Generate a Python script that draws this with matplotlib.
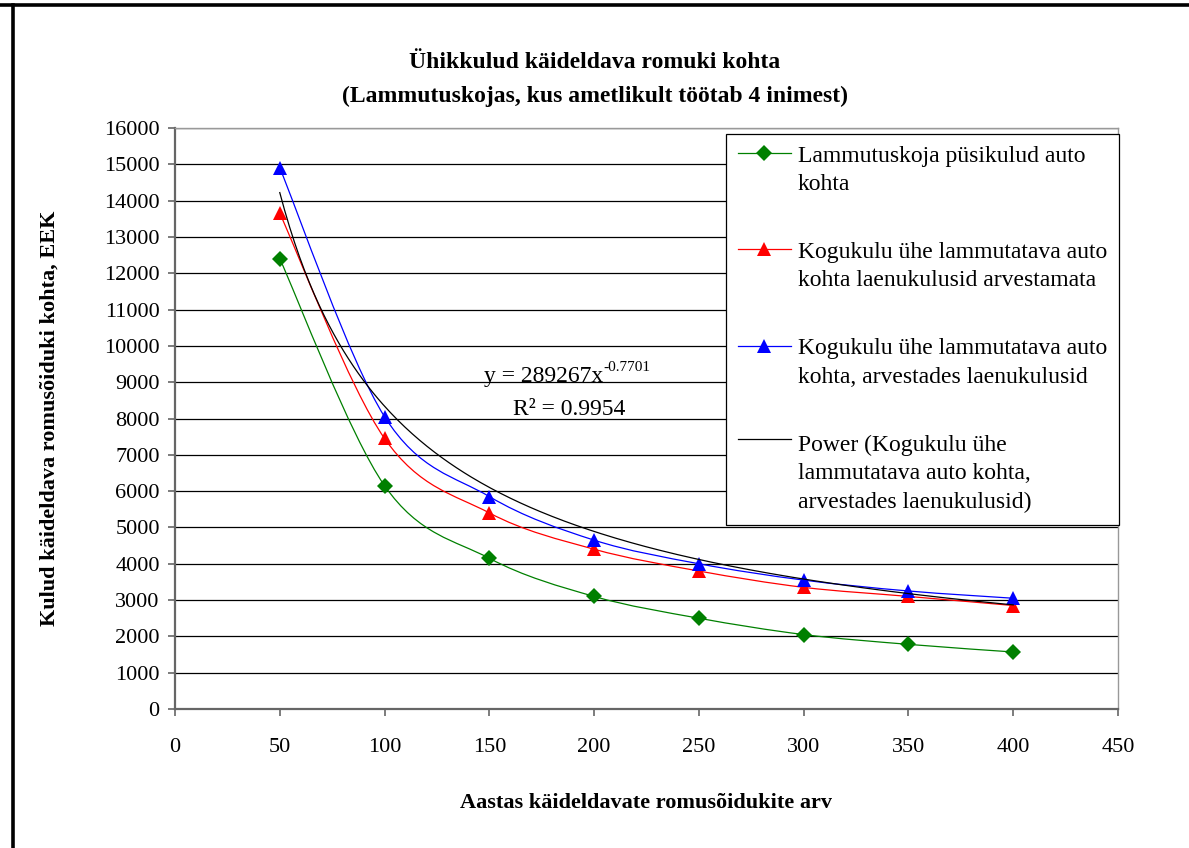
import numpy as np
import matplotlib
matplotlib.use("Agg")
import matplotlib.pyplot as plt
from matplotlib.path import Path
from matplotlib.patches import PathPatch
from matplotlib.lines import Line2D
from matplotlib.legend_handler import HandlerLine2D

plt.rcParams['font.family'] = ['Liberation Serif', 'DejaVu Serif']

# data
cars = [50, 100, 150, 200, 250, 300, 350, 400]
fixed_cost = [12400, 6150, 4150, 3100, 2500, 2050, 1780, 1570]
total_no_loan = [13650, 7450, 5400, 4400, 3800, 3350, 3100, 2850]
total_with_loan = [14900, 8050, 5850, 4650, 4000, 3550, 3250, 3050]

# power trendline shown on the chart
trend_a = 289267
trend_b = -0.7701
trend_r2 = 0.9954

labels = [
    "Lammutuskoja püsikulud auto\nkohta",
    "Kogukulu ühe lammutatava auto\nkohta laenukulusid arvestamata",
    "Kogukulu ühe lammutatava auto\nkohta, arvestades laenukulusid",
    "Power (Kogukulu ühe\nlammutatava auto kohta,\narvestades laenukulusid)",
]

x_ticks = [0, 50, 100, 150, 200, 250, 300, 350, 400, 450]
y_ticks = list(range(0, 16001, 1000))

LEG_LINESPACING = 1.45


def smooth_path(xs, ys):
    # Excel style smoothed line: Catmull-Rom segments as cubic Bezier
    xs = np.asarray(xs, float)
    ys = np.asarray(ys, float)
    n = len(xs)
    verts = [(xs[0], ys[0])]
    codes = [Path.MOVETO]
    for i in range(n - 1):
        p0 = i - 1 if i > 0 else i
        p3 = i + 2 if i + 2 < n else i + 1
        c1 = (xs[i] + (xs[i + 1] - xs[p0]) / 6, ys[i] + (ys[i + 1] - ys[p0]) / 6)
        c2 = (xs[i + 1] - (xs[p3] - xs[i]) / 6, ys[i + 1] - (ys[p3] - ys[i]) / 6)
        verts += [c1, c2, (xs[i + 1], ys[i + 1])]
        codes += [Path.CURVE4] * 3
    return Path(verts, codes)


class FirstLineHandler(HandlerLine2D):
    # put the handle beside the first line of a multi-line label
    def __init__(self, nlines, **kw):
        super().__init__(**kw)
        self.nlines = nlines

    def create_artists(self, legend, orig_handle, xdescent, ydescent,
                       width, height, fontsize, trans):
        shift = (self.nlines - 1) / 2 * LEG_LINESPACING * fontsize
        return super().create_artists(legend, orig_handle, xdescent,
                                      ydescent - 2 * shift, width, height,
                                      fontsize, trans)


fig = plt.figure(figsize=(11.89, 8.48), dpi=100)
ax = fig.add_axes([175 / 1189, 1 - 709 / 848, (1118 - 175) / 1189, (709 - 128) / 848])

series = [
    (fixed_cost, "#008000", "D", 8),
    (total_no_loan, "#ff0000", "^", 10),
    (total_with_loan, "#0000ff", "^", 10),
]
handles = []
for ys, col, mk, ms in series:
    ax.add_patch(PathPatch(smooth_path(cars, ys), facecolor="none",
                           edgecolor=col, lw=0.9, zorder=3))
    ax.plot(cars, ys, linestyle="none", marker=mk, color=col, ms=ms,
            markeredgewidth=0, zorder=4)
    handles.append(Line2D([], [], color=col, lw=0.9, marker=mk, ms=ms,
                          markeredgewidth=0))

xt = np.linspace(cars[0], cars[-1], 300)
ax.plot(xt, trend_a * xt ** trend_b, color="black", lw=0.9, zorder=5)
handles.append(Line2D([], [], color="black", lw=0.9))

eq = ax.text(176, 9150, "y = 289267x", ha="center", va="center", fontsize=17)
ax.annotate("-0.7701", xy=(1.0, 0.95), xycoords=eq, ha="left", va="center",
            fontsize=11)
ax.text(188, 8250, "R² = %.4f" % trend_r2, ha="center", va="center", fontsize=17)

ax.set_xlim(0, 450)
ax.set_ylim(0, 16000)
ax.set_xticks(x_ticks)
ax.set_yticks(y_ticks)
ax.yaxis.grid(True, color="black", lw=0.9)
ax.set_axisbelow(True)
ax.tick_params(axis="both", labelsize=16, direction="out", length=5,
               color="#666666", width=1.2)
ax.tick_params(axis="x", pad=16)
ax.tick_params(axis="y", pad=6)
for side in ["left", "bottom"]:
    ax.spines[side].set_color("#666666")
    ax.spines[side].set_linewidth(1.6)
for side in ["top", "right"]:
    ax.spines[side].set_color("#999999")
    ax.spines[side].set_linewidth(1.0)

ax.set_xlabel("Aastas käideldavate romusõidukite arv", fontsize=16,
              fontweight="bold", labelpad=26)
ax.set_ylabel("Kulud käideldava romusõiduki kohta, EEK", fontsize=16,
              fontweight="bold", labelpad=32)

fig.text(0.5, 1 - 63 / 848, "Ühikkulud käideldava romuki kohta", ha="center",
         va="center", fontsize=17, fontweight="bold")
fig.text(0.5, 1 - 96 / 848, "(Lammutuskojas, kus ametlikult töötab 4 inimest)",
         ha="center", va="center", fontsize=17, fontweight="bold")

hmap = {h: FirstLineHandler(lab.count("\n") + 1) for h, lab in zip(handles, labels)}
leg = ax.legend(handles, labels, loc="upper right", bbox_to_anchor=(1.001, 0.99),
                fontsize=17, frameon=True, fancybox=False, framealpha=1,
                edgecolor="black", handlelength=2.25, handletextpad=0.3,
                labelspacing=2.0, borderpad=0.5, borderaxespad=0,
                handler_map=hmap)
for t in leg.get_texts():
    t.set_linespacing(LEG_LINESPACING)
leg.get_frame().set_linewidth(0.9)
leg.set_zorder(6)

# black frame lines at top and left of the image
fig.add_artist(Line2D([0, 1], [1 - 5 / 848, 1 - 5 / 848], color="black", lw=2.6,
                      transform=fig.transFigure))
fig.add_artist(Line2D([13 / 1189, 13 / 1189], [0, 1 - 5 / 848], color="black", lw=2.6,
                      transform=fig.transFigure))

fig.savefig("out.png", dpi=100)
